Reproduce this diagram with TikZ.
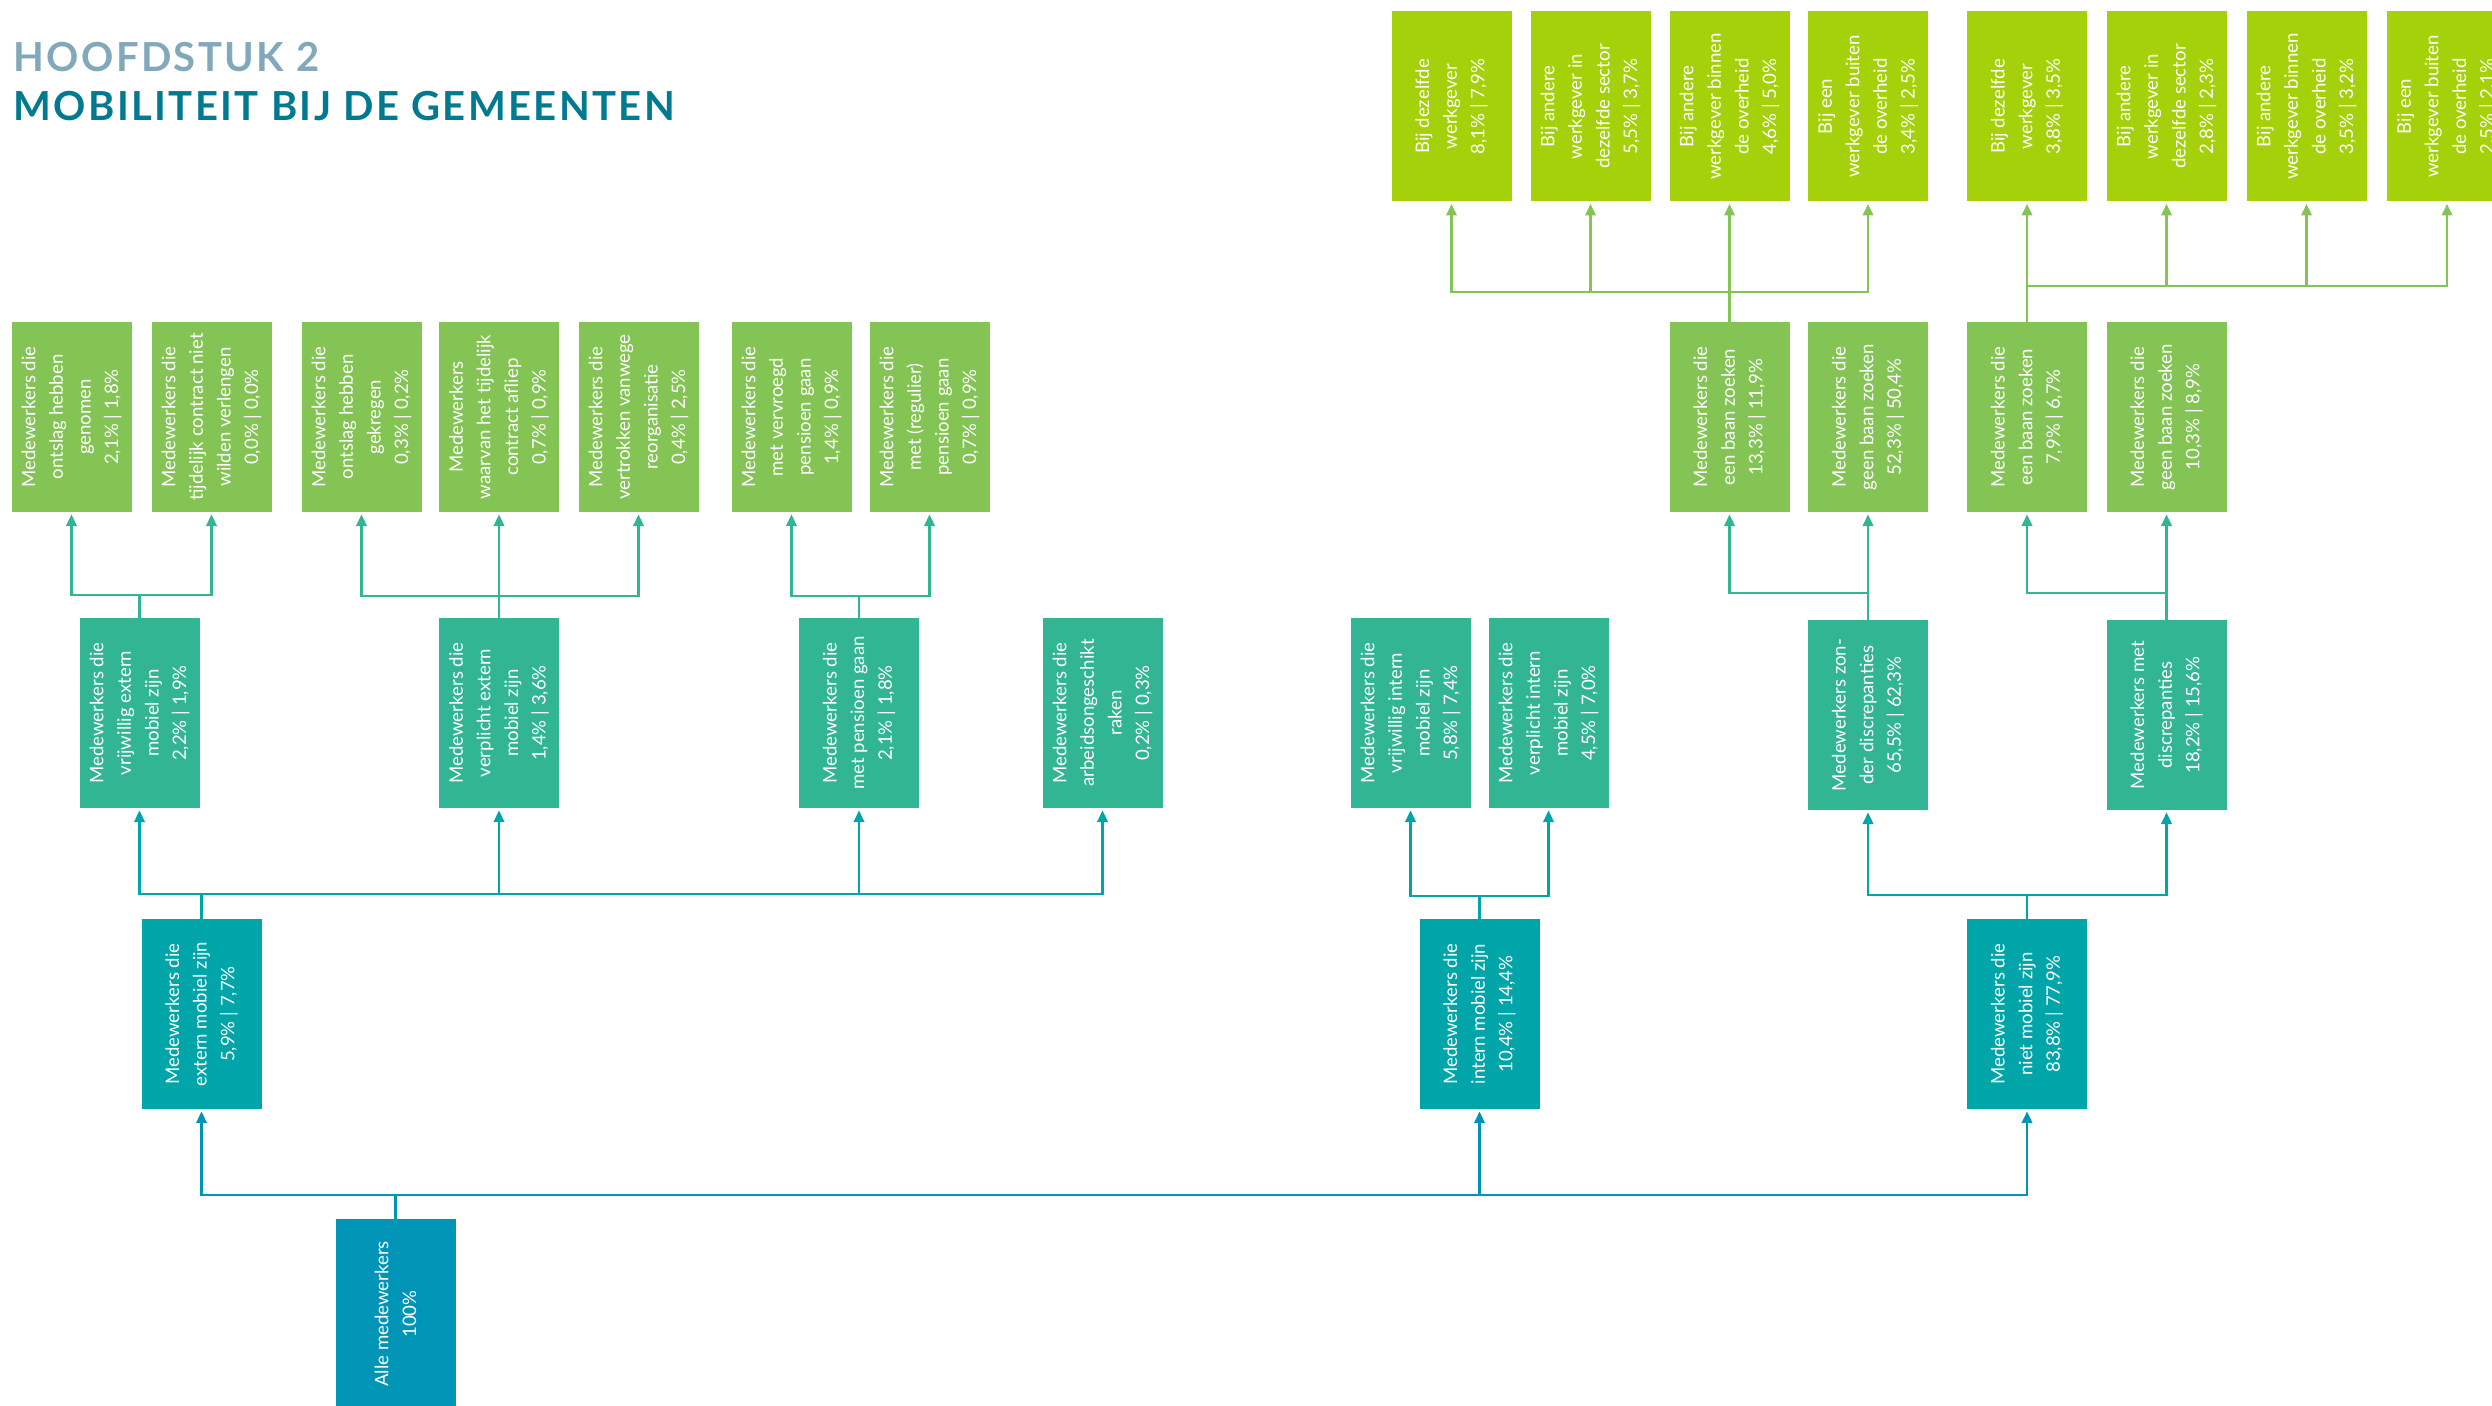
\documentclass[tikz,border=0pt]{standalone}
\usepackage{fontspec}
\setmainfont{Lato}
\newfontfamily\titlefont{Lato}[LetterSpace=6]
\usetikzlibrary{arrows.meta}

\definecolor{cLime}{HTML}{A5D10A}
\definecolor{cGreen}{HTML}{83C455}
\definecolor{cMint}{HTML}{32B592}
\definecolor{cTeal}{HTML}{00A5A9}
\definecolor{cBlue}{HTML}{0095B6}
\definecolor{cTitleA}{HTML}{82A9BB}
\definecolor{cTitleB}{HTML}{007A91}

\newcommand\bxfont{\fontsize{9.3}{13.8}\selectfont}

\begin{document}
\begin{tikzpicture}[x=0.5pt,y=-0.5pt,
  box/.style={fill=#1, rotate=90, minimum width=95pt, minimum height=60pt,
              inner sep=0pt, text=white, align=center, font=\bxfont},
  link/.style={draw=#1, line width=1.2pt,
               -{Triangle[width=5.2pt,length=5.8pt]}, shorten >=1pt},
  heading/.style={anchor=base west, inner sep=0pt,
                  font=\titlefont\bfseries\fontsize{20}{24}\selectfont}]

\useasboundingbox (0,0) rectangle (2492,1406);
\clip (0,0) rectangle (2492,1406);
\fill[white] (0,0) rectangle (2492,1406);

% headings
\node[heading, text=cTitleA] (hd1) at (13,72) {HOOFDSTUK 2};
\node[heading, text=cTitleB] (hd2) at (13,121) {MOBILITEIT BIJ DE GEMEENTEN};

% top level
\node[box=cBlue] (root) at (395.5,1314) {Alle medewerkers\\100\%};

% level 1
\node[box=cTeal] (c1) at (201.5,1014) {Medewerkers die\\extern mobiel zijn\\5,9\% | 7,7\%};
\node[box=cTeal] (c2) at (1479.5,1014) {Medewerkers die\\intern mobiel zijn\\10,4\% | 14,4\%};
\node[box=cTeal] (c3) at (2027,1014) {Medewerkers die\\niet mobiel zijn\\83,8\% | 77,9\%};

% level 2
\node[box=cMint] (b1) at (139.5,713) {Medewerkers die\\vrijwillig extern\\mobiel zijn\\2,2\% | 1,9\%};
\node[box=cMint] (b2) at (499,713) {Medewerkers die\\verplicht extern\\mobiel zijn\\1,4\% | 3,6\%};
\node[box=cMint] (b3) at (859,713) {Medewerkers die\\met pensioen gaan\\2,1\% | 1,8\%};
\node[box=cMint] (b4) at (1102.5,713) {Medewerkers die\\arbeidsongeschikt\\raken\\0,2\% | 0,3\%};
\node[box=cMint] (b5) at (1410.5,713) {Medewerkers die\\vrijwillig intern\\mobiel zijn\\5,8\% | 7,4\%};
\node[box=cMint] (b6) at (1548.5,713) {Medewerkers die\\verplicht intern\\mobiel zijn\\4,5\% | 7,0\%};
\node[box=cMint] (b7) at (1868,715) {Medewerkers zon-\\der discrepanties\\65,5\% | 62,3\%};
\node[box=cMint] (b8) at (2166.5,715) {Medewerkers met\\discrepanties\\18,2\% | 15,6\%};

% level 3
\node[box=cGreen] (a1) at (71.5,417) {Medewerkers die\\ontslag hebben\\genomen\\2,1\% | 1,8\%};
\node[box=cGreen] (a2) at (211.5,417) {Medewerkers die\\tijdelijk contract niet\\wilden verlengen\\0,0\% | 0,0\%};
\node[box=cGreen] (a3) at (361.5,417) {Medewerkers die\\ontslag hebben\\gekregen\\0,3\% | 0,2\%};
\node[box=cGreen] (a4) at (499,417) {Medewerkers\\waarvan het tijdelijk\\contract afliep\\0,7\% | 0,9\%};
\node[box=cGreen] (a5) at (638.5,417) {Medewerkers die\\vertrokken vanwege\\reorganisatie\\0,4\% | 2,5\%};
\node[box=cGreen] (a6) at (791.5,417) {Medewerkers die\\met vervroegd\\pensioen gaan\\1,4\% | 0,9\%};
\node[box=cGreen] (a7) at (929.5,417) {Medewerkers die\\met (regulier)\\pensioen gaan\\0,7\% | 0,9\%};
\node[box=cGreen] (a8) at (1729.5,417) {Medewerkers die\\een baan zoeken\\13,3\% | 11,9\%};
\node[box=cGreen] (a9) at (1868,417) {Medewerkers die\\geen baan zoeken\\52,3\% | 50,4\%};
\node[box=cGreen] (a10) at (2027,417) {Medewerkers die\\een baan zoeken\\7,9\% | 6,7\%};
\node[box=cGreen] (a11) at (2166.5,417) {Medewerkers die\\geen baan zoeken\\10,3\% | 8,9\%};

% level 4
\node[box=cLime] (t1) at (1451.5,106.5) {Bij dezelfde\\werkgever\\8,1\% | 7,9\%};
\node[box=cLime] (t2) at (1590.5,106.5) {Bij andere\\werkgever in\\dezelfde sector\\5,5\% | 3,7\%};
\node[box=cLime] (t3) at (1729.5,106.5) {Bij andere\\werkgever binnen\\de overheid\\4,6\% | 5,0\%};
\node[box=cLime] (t4) at (1868,106.5) {Bij een\\werkgever buiten\\de overheid\\3,4\% | 2,5\%};
\node[box=cLime] (t5) at (2027,106.5) {Bij dezelfde\\werkgever\\3,8\% | 3,5\%};
\node[box=cLime] (t6) at (2166.5,106.5) {Bij andere\\werkgever in\\dezelfde sector\\2,8\% | 2,3\%};
\node[box=cLime] (t7) at (2306.5,106.5) {Bij andere\\werkgever binnen\\de overheid\\3,5\% | 3,2\%};
\node[box=cLime] (t8) at (2447,106.5) {Bij een\\werkgever buiten\\de overheid\\2,5\% | 2,1\%};

% bus heights of the branching connectors
\coordinate (busR) at (0,1195);
\coordinate (busC1) at (0,894);
\coordinate (busC2) at (0,896);
\coordinate (busC3) at (0,895);
\coordinate (busB1) at (0,595);
\coordinate (busB2) at (0,596);
\coordinate (busB3) at (0,596);
\coordinate (busB7) at (0,593);
\coordinate (busB8) at (0,593);
\coordinate (busA8) at (0,292);
\coordinate (busA10) at (0,286);

% connectors
\foreach \c in {c1,c2,c3}
  \draw[link=cBlue] (root.east) -- (root.east |- busR) -| (\c.west);
\foreach \c in {b1,b2,b3,b4}
  \draw[link=cTeal] (c1.east) -- (c1.east |- busC1) -| (\c.west);
\foreach \c in {b5,b6}
  \draw[link=cTeal] (c2.east) -- (c2.east |- busC2) -| (\c.west);
\foreach \c in {b7,b8}
  \draw[link=cTeal] (c3.east) -- (c3.east |- busC3) -| (\c.west);
\foreach \c in {a1,a2}
  \draw[link=cMint] (b1.east) -- (b1.east |- busB1) -| (\c.west);
\foreach \c in {a3,a4,a5}
  \draw[link=cMint] (b2.east) -- (b2.east |- busB2) -| (\c.west);
\foreach \c in {a6,a7}
  \draw[link=cMint] (b3.east) -- (b3.east |- busB3) -| (\c.west);
\foreach \c in {a8,a9}
  \draw[link=cMint] (b7.east) -- (b7.east |- busB7) -| (\c.west);
\foreach \c in {a10,a11}
  \draw[link=cMint] (b8.east) -- (b8.east |- busB8) -| (\c.west);
\foreach \c in {t1,t2,t3,t4}
  \draw[link=cGreen] (a8.east) -- (a8.east |- busA8) -| (\c.west);
\foreach \c in {t5,t6,t7,t8}
  \draw[link=cGreen] (a10.east) -- (a10.east |- busA10) -| (\c.west);
\end{tikzpicture}
\end{document}
